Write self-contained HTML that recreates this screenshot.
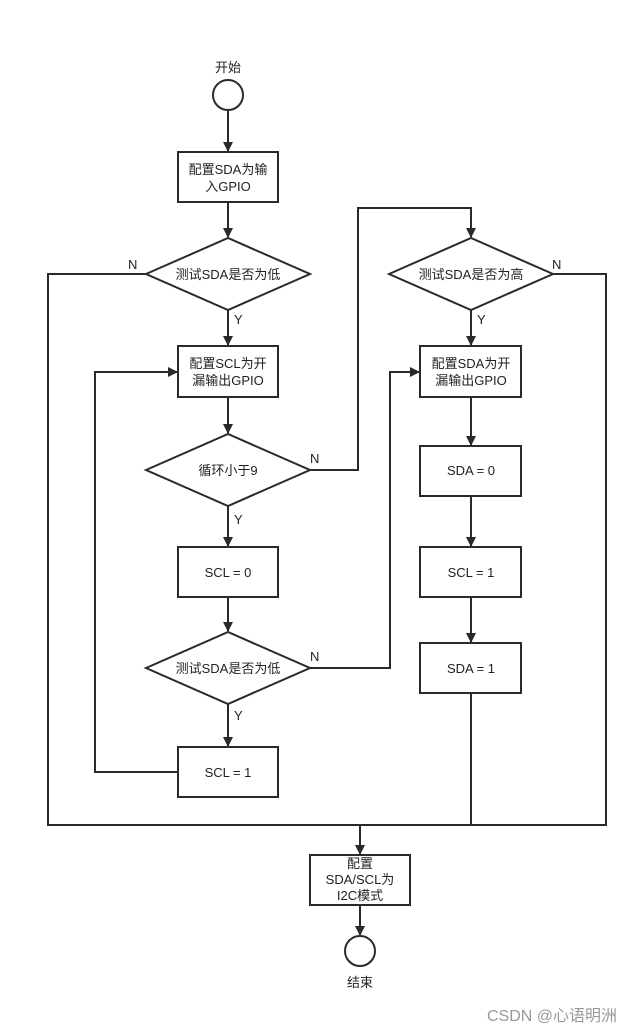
<!DOCTYPE html>
<html><head><meta charset="utf-8"><style>
html,body{margin:0;padding:0;background:#fff;}
svg{display:block;}
text{font-family:"Liberation Sans","Noto Sans CJK SC",sans-serif;font-size:13px;fill:#222;}
</style></head><body>
<svg width="638" height="1033" viewBox="0 0 638 1033" xmlns="http://www.w3.org/2000/svg">
<defs>
<marker id="a" markerWidth="10" markerHeight="10" refX="9" refY="5" orient="auto" markerUnits="userSpaceOnUse">
<path d="M0,0 L10,5 L0,10 z" fill="#2a2a2a"/>
</marker>
</defs>
<g stroke="#2a2a2a" stroke-width="2" fill="none">
<circle cx="228" cy="95" r="15" fill="#fff"/>
<rect x="178" y="152" width="100" height="50" fill="#fff"/>
<polygon points="146,274 228,238 310,274 228,310" fill="#fff"/>
<rect x="178" y="346" width="100" height="51" fill="#fff"/>
<polygon points="146,470 228,434 310,470 228,506" fill="#fff"/>
<rect x="178" y="547" width="100" height="50" fill="#fff"/>
<polygon points="146,668 228,632 310,668 228,704" fill="#fff"/>
<rect x="178" y="747" width="100" height="50" fill="#fff"/>
<polygon points="389,274 471,238 553,274 471,310" fill="#fff"/>
<rect x="420" y="346" width="101" height="51" fill="#fff"/>
<rect x="420" y="446" width="101" height="50" fill="#fff"/>
<rect x="420" y="547" width="101" height="50" fill="#fff"/>
<rect x="420" y="643" width="101" height="50" fill="#fff"/>
<rect x="310" y="855" width="100" height="50" fill="#fff"/>
<circle cx="360" cy="951" r="15" fill="#fff"/>

<line x1="228" y1="110" x2="228" y2="151" marker-end="url(#a)"/>
<line x1="228" y1="202" x2="228" y2="237" marker-end="url(#a)"/>
<line x1="228" y1="310" x2="228" y2="345" marker-end="url(#a)"/>
<line x1="228" y1="397" x2="228" y2="433" marker-end="url(#a)"/>
<line x1="228" y1="506" x2="228" y2="546" marker-end="url(#a)"/>
<line x1="228" y1="597" x2="228" y2="631" marker-end="url(#a)"/>
<line x1="228" y1="704" x2="228" y2="746" marker-end="url(#a)"/>
<polyline points="178,772 95,772 95,372 177,372" marker-end="url(#a)"/>
<polyline points="146,274 48,274 48,825 606,825 606,274 553,274"/>
<polyline points="310,470 358,470 358,208 471,208 471,237" marker-end="url(#a)"/>
<polyline points="310,668 390,668 390,372 419,372" marker-end="url(#a)"/>
<line x1="471" y1="310" x2="471" y2="345" marker-end="url(#a)"/>
<line x1="471" y1="397" x2="471" y2="445" marker-end="url(#a)"/>
<line x1="471" y1="496" x2="471" y2="546" marker-end="url(#a)"/>
<line x1="471" y1="597" x2="471" y2="642" marker-end="url(#a)"/>
<line x1="471" y1="693" x2="471" y2="825"/>
<line x1="360" y1="825" x2="360" y2="854" marker-end="url(#a)"/>
<line x1="360" y1="905" x2="360" y2="935" marker-end="url(#a)"/>
</g>
<g text-anchor="middle">
<text x="228" y="72">开始</text>
<text x="228" y="174">配置SDA为输</text>
<text x="228" y="191">入GPIO</text>
<text x="228" y="279">测试SDA是否为低</text>
<text x="228" y="368">配置SCL为开</text>
<text x="228" y="385">漏输出GPIO</text>
<text x="228" y="475">循环小于9</text>
<text x="228" y="577">SCL = 0</text>
<text x="228" y="673">测试SDA是否为低</text>
<text x="228" y="777">SCL = 1</text>
<text x="471" y="279">测试SDA是否为高</text>
<text x="471" y="368">配置SDA为开</text>
<text x="471" y="385">漏输出GPIO</text>
<text x="471" y="475">SDA = 0</text>
<text x="471" y="577">SCL = 1</text>
<text x="471" y="673">SDA = 1</text>
<text x="360" y="868">配置</text>
<text x="360" y="884">SDA/SCL为</text>
<text x="360" y="900">I2C模式</text>
<text x="360" y="987">结束</text>
</g>
<text x="128" y="269">N</text>
<text x="234" y="324">Y</text>
<text x="310" y="463">N</text>
<text x="234" y="524">Y</text>
<text x="310" y="661">N</text>
<text x="234" y="720">Y</text>
<text x="552" y="269">N</text>
<text x="477" y="324">Y</text>
<text x="487" y="1021" style="font-size:16px;fill:#999">CSDN @心语明洲</text>
</svg>
</body></html>
